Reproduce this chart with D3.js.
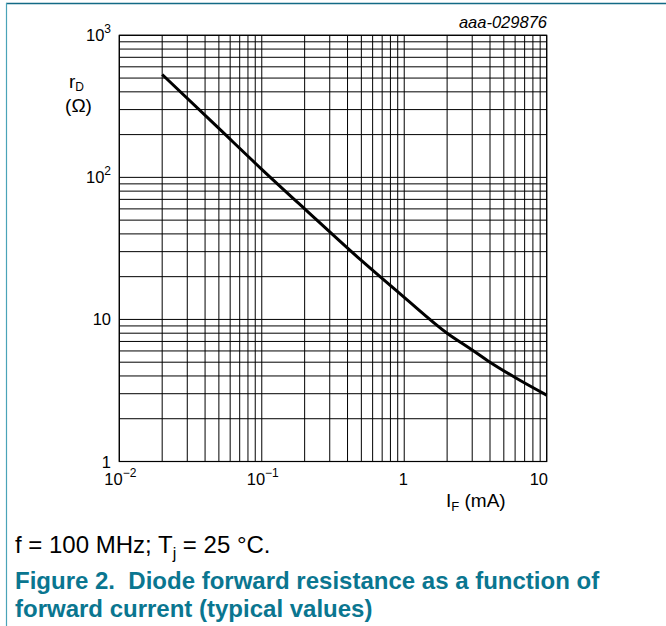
<!DOCTYPE html>
<html><head><meta charset="utf-8">
<script src="https://cdn.jsdelivr.net/npm/d3@7"></script>
<style>
html,body{margin:0;padding:0;background:#fff;}
svg{display:block;font-family:"Liberation Sans",Arial,sans-serif;}
</style></head>
<body>
<script>
// Data
const currentMA = [0.02, 0.05, 0.1, 0.2, 0.5, 1, 2, 3, 4, 6, 10];
const resistanceOhm = [530, 221, 114, 60, 26, 14.3, 8.0, 6.1, 5.0, 3.9, 2.93];
const xTickVals = [0.01, 0.1, 1, 10];
const xTickBase = ["10", "10", "1", "10"];
const xTickExp = ["\u22122", "\u22121", "", ""];
const yTickVals = [1, 10, 100, 1000];
const yTickBase = ["1", "10", "10", "10"];
const yTickExp = ["", "", "2", "3"];

const W = 666, H = 626;
const svg = d3.select("body").append("svg").attr("width", W).attr("height", H);

// page frame
svg.append("line").attr("x1", 6).attr("x2", W).attr("y1", 3.5).attr("y2", 3.5)
  .attr("stroke", "#136a85").attr("stroke-width", 1.5);
svg.append("line").attr("x1", 6.5).attr("x2", 6.5).attr("y1", 3).attr("y2", H)
  .attr("stroke", "#4aa3b8").attr("stroke-width", 1.2);

const L = 119.3, R = 546.7, T = 35.3, B = 461.5;
const x = d3.scaleLog().domain([0.01, 10]).range([L, R]);
const y = d3.scaleLog().domain([1, 1000]).range([B, T]);

const g = svg.append("g");
// grid
g.selectAll(".vg").data(x.ticks()).enter().append("line")
  .attr("x1", d => x(d)).attr("x2", d => x(d)).attr("y1", T).attr("y2", B)
  .attr("stroke", "#000").attr("stroke-width", 1);
g.selectAll(".hg").data(y.ticks()).enter().append("line")
  .attr("y1", d => y(d)).attr("y2", d => y(d)).attr("x1", L).attr("x2", R)
  .attr("stroke", "#000").attr("stroke-width", 1);
g.append("rect").attr("x", L).attr("y", T).attr("width", R - L).attr("height", B - T)
  .attr("fill", "none").attr("stroke", "#000").attr("stroke-width", 1.2);

// curve
const pts = currentMA.map((c, i) => [x(c), y(resistanceOhm[i])]);
g.append("path").attr("d", d3.line().curve(d3.curveMonotoneX)(pts))
  .attr("fill", "none").attr("stroke", "#000").attr("stroke-width", 3);

const TF = 16.5, SF = 12;
// y tick labels
yTickVals.forEach((v, i) => {
  const t = svg.append("text").attr("x", 111).attr("y", y(v) + 6)
    .attr("font-size", TF).attr("text-anchor", "end").attr("fill", "#000");
  if (yTickExp[i]) {
    t.append("tspan").text(yTickBase[i]);
    t.append("tspan").attr("dy", -8).attr("font-size", SF).text(yTickExp[i]);
  } else {
    t.text(yTickBase[i]);
  }
});

// x tick labels
xTickVals.forEach((v, i) => {
  const t = svg.append("text").attr("y", 485).attr("font-size", TF).attr("fill", "#000");
  if (xTickExp[i]) {
    t.attr("x", x(v) + 1).attr("text-anchor", "middle");
    t.append("tspan").text(xTickBase[i]);
    t.append("tspan").attr("dy", -8).attr("font-size", SF).text(xTickExp[i]);
  } else if (i === xTickVals.length - 1) {
    t.attr("x", 548).attr("text-anchor", "end").text(xTickBase[i]);
  } else {
    t.attr("x", x(v) - 1).attr("text-anchor", "middle").text(xTickBase[i]);
  }
});

// axis titles
const yt = svg.append("text").attr("x", 69).attr("y", 88).attr("font-size", 19);
yt.append("tspan").text("r");
yt.append("tspan").attr("dy", 3).attr("font-size", 12).text("D");
svg.append("text").attr("x", 78.5).attr("y", 112).attr("font-size", 19)
  .attr("text-anchor", "middle").text("(Ω)");

const xt = svg.append("text").attr("x", 446).attr("y", 507).attr("font-size", 19);
xt.append("tspan").text("I");
xt.append("tspan").attr("dy", 4).attr("font-size", 13).text("F");
xt.append("tspan").attr("dy", -4).text(" (mA)");

svg.append("text").attr("x", 547).attr("y", 28).attr("text-anchor", "end")
  .attr("font-size", 16.5).attr("font-style", "italic").text("aaa-029876");

// captions
const c1 = svg.append("text").attr("x", 15).attr("y", 553).attr("font-size", 24).attr("fill", "#000");
c1.append("tspan").text("f = 100 MHz; T");
c1.append("tspan").attr("dy", 6).attr("font-size", 16).text("j");
c1.append("tspan").attr("dy", -6).text(" = 25 °C.");

svg.append("text").attr("x", 15).attr("y", 589).attr("font-size", 24).attr("font-weight", "bold")
  .attr("fill", "#0a7690").text("Figure 2.\u00a0\u00a0Diode forward resistance as a function of");
svg.append("text").attr("x", 15).attr("y", 617).attr("font-size", 24).attr("font-weight", "bold")
  .attr("fill", "#0a7690").text("forward current (typical values)");
</script>
</body></html>
